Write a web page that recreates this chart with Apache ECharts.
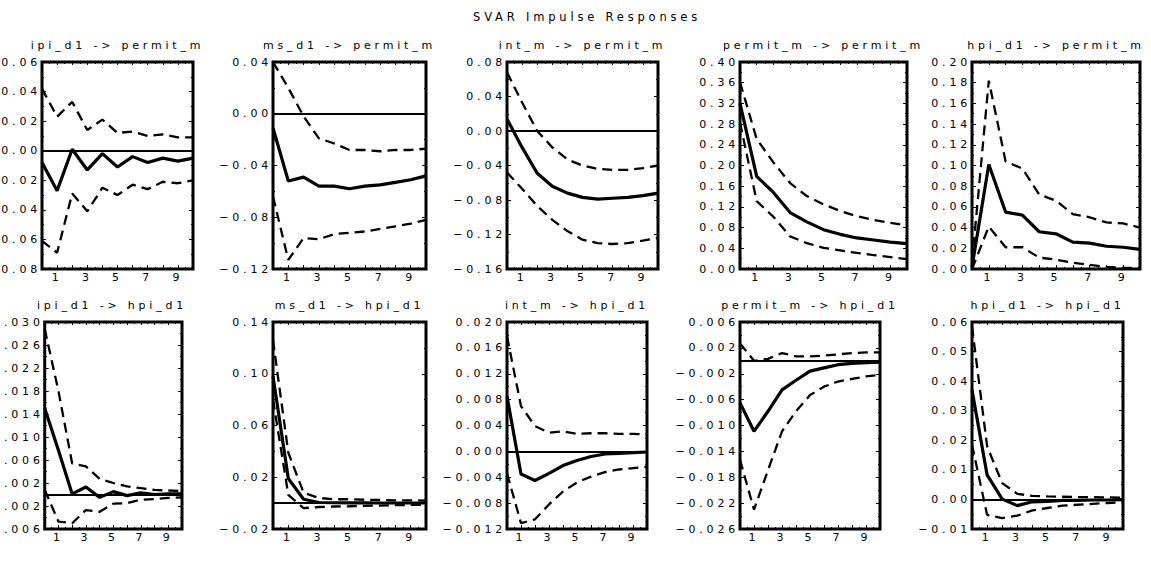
<!DOCTYPE html>
<html><head><meta charset="utf-8">
<style>
html,body{margin:0;padding:0;background:#fff;}
#c{width:1151px;height:576px;}
#c text{letter-spacing:3.8px;}
</style>
<script src="https://cdn.jsdelivr.net/npm/echarts@6/dist/echarts.min.js"></script>
</head><body><div id="c"></div>
<script>
// ---------------- data ----------------
const mainTitle = 'SVAR Impulse Responses';
const horizons = [0,1,2,3,4,5,6,7,8,9,10];
const xTickLabels = ['1','3','5','7','9'];
const panelTitles = [
  'ipi_d1 -> permit_m','ms_d1 -> permit_m','int_m -> permit_m','permit_m -> permit_m','hpi_d1 -> permit_m',
  'ipi_d1 -> hpi_d1','ms_d1 -> hpi_d1','int_m -> hpi_d1','permit_m -> hpi_d1','hpi_d1 -> hpi_d1'
];
// response (solid) and 95% band (dashed) per panel
const resp1  = [-0.008,-0.027,0.001,-0.013,-0.002,-0.011,-0.004,-0.008,-0.005,-0.007,-0.005];
const upper1 = [0.042,0.023,0.033,0.014,0.021,0.012,0.013,0.010,0.011,0.009,0.009];
const lower1 = [-0.061,-0.069,-0.029,-0.041,-0.025,-0.030,-0.023,-0.026,-0.021,-0.022,-0.020];

const resp2  = [-0.011,-0.052,-0.049,-0.056,-0.056,-0.058,-0.056,-0.055,-0.053,-0.051,-0.048];
const upper2 = [0.040,0.020,-0.002,-0.019,-0.023,-0.028,-0.028,-0.029,-0.028,-0.028,-0.027];
const lower2 = [-0.064,-0.113,-0.096,-0.097,-0.093,-0.092,-0.091,-0.089,-0.087,-0.085,-0.082];

const resp3  = [0.014,-0.019,-0.049,-0.064,-0.072,-0.077,-0.079,-0.078,-0.077,-0.075,-0.072];
const upper3 = [0.068,0.033,0.000,-0.019,-0.033,-0.040,-0.044,-0.045,-0.045,-0.043,-0.040];
const lower3 = [-0.048,-0.067,-0.087,-0.103,-0.116,-0.126,-0.130,-0.131,-0.130,-0.127,-0.124];

const resp4  = [0.320,0.179,0.148,0.109,0.091,0.076,0.067,0.060,0.056,0.052,0.049];
const upper4 = [0.361,0.251,0.206,0.166,0.141,0.125,0.112,0.102,0.095,0.089,0.084];
const lower4 = [0.283,0.131,0.101,0.063,0.050,0.041,0.036,0.031,0.027,0.023,0.019];

const resp5  = [0.002,0.101,0.055,0.052,0.036,0.034,0.026,0.025,0.022,0.021,0.019];
const upper5 = [0.006,0.182,0.104,0.097,0.072,0.066,0.053,0.050,0.045,0.044,0.040];
const lower5 = [0.000,0.041,0.021,0.021,0.011,0.009,0.006,0.004,0.002,0.001,0.001];

const resp6  = [0.0150,0.0077,0.0001,0.0013,-0.0005,0.0005,-0.0002,0.0003,0.0000,0.0001,0.0001];
const upper6 = [0.0288,0.0180,0.0054,0.0049,0.0027,0.0020,0.0014,0.0011,0.0008,0.0007,0.0006];
const lower6 = [0.0008,-0.0047,-0.0050,-0.0027,-0.0030,-0.0016,-0.0015,-0.0009,-0.0008,-0.0006,-0.0005];

const resp7  = [0.098,0.019,0.003,0.0005,0.0003,0.0002,0.0002,0.0001,0.0001,0.0001,0.0001];
const upper7 = [0.126,0.039,0.008,0.004,0.003,0.003,0.0026,0.0024,0.0022,0.0021,0.0020];
const lower7 = [0.080,0.0064,-0.0039,-0.0030,-0.0026,-0.0024,-0.0021,-0.0019,-0.0016,-0.0014,-0.0013];

const resp8  = [0.0085,-0.0035,-0.0045,-0.0034,-0.0022,-0.0014,-0.0008,-0.0004,-0.0003,-0.0002,-0.0001];
const upper8 = [0.0178,0.0070,0.0039,0.0029,0.0031,0.0027,0.0028,0.0028,0.0027,0.0027,0.0026];
const lower8 = [-0.0034,-0.0111,-0.0105,-0.0082,-0.0062,-0.0048,-0.0039,-0.0032,-0.0028,-0.0026,-0.0024];

const resp9  = [-0.0065,-0.0109,-0.0078,-0.0045,-0.0030,-0.0016,-0.0011,-0.0006,-0.0004,-0.0003,-0.0002];
const upper9 = [0.0027,0.0000,0.0003,0.0012,0.0007,0.0007,0.0008,0.0010,0.0012,0.0013,0.0013];
const lower9 = [-0.0153,-0.0230,-0.0169,-0.0109,-0.0078,-0.0053,-0.0040,-0.0032,-0.0028,-0.0024,-0.0022];

const resp10  = [0.037,0.0083,0.0001,-0.0021,-0.0008,-0.0007,-0.0003,-0.0003,-0.0002,-0.0002,-0.0001];
const upper10 = [0.0585,0.018,0.0055,0.0019,0.0012,0.0010,0.0009,0.0008,0.0008,0.0007,0.0006];
const lower10 = [0.0185,-0.0052,-0.0063,-0.0055,-0.0037,-0.0029,-0.0021,-0.0018,-0.0015,-0.0012,-0.0010];

// y-axis ticks per panel
const yMin  = [-0.08,-0.12,-0.16,0,0,-0.006,-0.02,-0.012,-0.026,-0.01];
const yMax  = [0.06,0.04,0.08,0.40,0.20,0.030,0.14,0.020,0.006,0.06];
const yStep = [0.02,0.04,0.04,0.04,0.02,0.004,0.04,0.004,0.004,0.01];
const yDecimals = [2,2,2,2,2,3,2,3,3,2];

// ---------------- layout ----------------
const responses = [resp1,resp2,resp3,resp4,resp5,resp6,resp7,resp8,resp9,resp10];
const uppers = [upper1,upper2,upper3,upper4,upper5,upper6,upper7,upper8,upper9,upper10];
const lowers = [lower1,lower2,lower3,lower4,lower5,lower6,lower7,lower8,lower9,lower10];

const colLeft = [42,273,507,740,972];
const boxWidth = [151,153,151,167,168,140,153,140,140,151];
const rowTop = [62,322];
const boxHeight = 207;
const FONT = 'DejaVu Sans';

const grids=[], xAxes=[], yAxes=[], series=[], graphics=[];
graphics.push({type:'text', x:587, y:17, style:{text:mainTitle, fill:'#000', font:'11.5px "DejaVu Sans"', textAlign:'center', textVerticalAlign:'middle'}});

for (let i=0;i<10;i++){
  const row = i<5?0:1, col = i%5;
  const left = colLeft[col], top = rowTop[row], w = boxWidth[i];
  grids.push({left:left, top:top, width:w, height:boxHeight, show:true, borderColor:'#000', borderWidth:3, backgroundColor:'transparent', containLabel:false});
  graphics.push({type:'text', x:left+w/2, y:top-17, style:{text:panelTitles[i], fill:'#000', font:'11px "DejaVu Sans"', textAlign:'center', textVerticalAlign:'middle'}});
  const dec = yDecimals[i];
  // bottom x axis (labels)
  xAxes.push({gridIndex:i, type:'value', position:'bottom', min:0, max:10, interval:1,
    axisLine:{show:false, onZero:false}, splitLine:{show:false},
    axisTick:{show:true, inside:true, length:4, lineStyle:{color:'#000', width:1}},
    minorTick:{show:true, splitNumber:2, length:2, lineStyle:{color:'#000'}},
    axisLabel:{show:true, margin:3, color:'#000', fontFamily:FONT, fontSize:11,
      formatter:(v)=>{const s=String(Math.round(v)); return xTickLabels.indexOf(s)>=0?s:'';}}});
  // top x axis (ticks only)
  xAxes.push({gridIndex:i, type:'value', position:'top', min:0, max:10, interval:1,
    axisLine:{show:false, onZero:false}, splitLine:{show:false}, axisLabel:{show:false},
    axisTick:{show:true, inside:true, length:3, lineStyle:{color:'#000', width:1}},
    minorTick:{show:true, splitNumber:2, length:2, lineStyle:{color:'#000'}}});
  // left y axis
  yAxes.push({gridIndex:i, type:'value', position:'left', min:yMin[i], max:yMax[i], interval:yStep[i],
    axisLine:{show:false, onZero:false}, splitLine:{show:false},
    axisTick:{show:true, inside:true, length:4, lineStyle:{color:'#000', width:1}},
    minorTick:{show:true, splitNumber:2, length:2, lineStyle:{color:'#000'}},
    axisLabel:{show:true, margin:1, color:'#000', fontFamily:FONT, fontSize:11,
      formatter:(v)=>{ if (Math.abs(v)<1e-10) v=0; const s=Math.abs(v).toFixed(dec); return (v<0?'\u2212':'')+s; }}});
  // right y axis (ticks only)
  yAxes.push({gridIndex:i, type:'value', position:'right', min:yMin[i], max:yMax[i], interval:yStep[i],
    axisLine:{show:false, onZero:false}, splitLine:{show:false}, axisLabel:{show:false},
    axisTick:{show:true, inside:true, length:4, lineStyle:{color:'#000', width:1}},
    minorTick:{show:true, splitNumber:2, length:2, lineStyle:{color:'#000'}}});

  const xi = 2*i, yi = 2*i;
  const toPts = (arr)=>horizons.map((h,k)=>[h,arr[k]]);
  series.push({type:'line', xAxisIndex:xi, yAxisIndex:yi, data:toPts(uppers[i]), symbol:'none', silent:true,
    lineStyle:{color:'#000', width:2.3, type:[10,6]}, z:3});
  series.push({type:'line', xAxisIndex:xi, yAxisIndex:yi, data:toPts(lowers[i]), symbol:'none', silent:true,
    lineStyle:{color:'#000', width:2.3, type:[10,6]}, z:3});
  series.push({type:'line', xAxisIndex:xi, yAxisIndex:yi, data:toPts(responses[i]), symbol:'none', silent:true,
    lineStyle:{color:'#000', width:3.2}, z:4,
    markLine:{silent:true, symbol:['none','none'], label:{show:false}, lineStyle:{color:'#000', width:2, type:'solid'},
      data:[{yAxis:0}]}});
}

const chart = echarts.init(document.getElementById('c'), null, {renderer:'svg', width:1151, height:576});
chart.setOption({
  animation:false,
  backgroundColor:'#fff',
  grid:grids, xAxis:xAxes, yAxis:yAxes, series:series, graphic:graphics
});
</script>
</body></html>
